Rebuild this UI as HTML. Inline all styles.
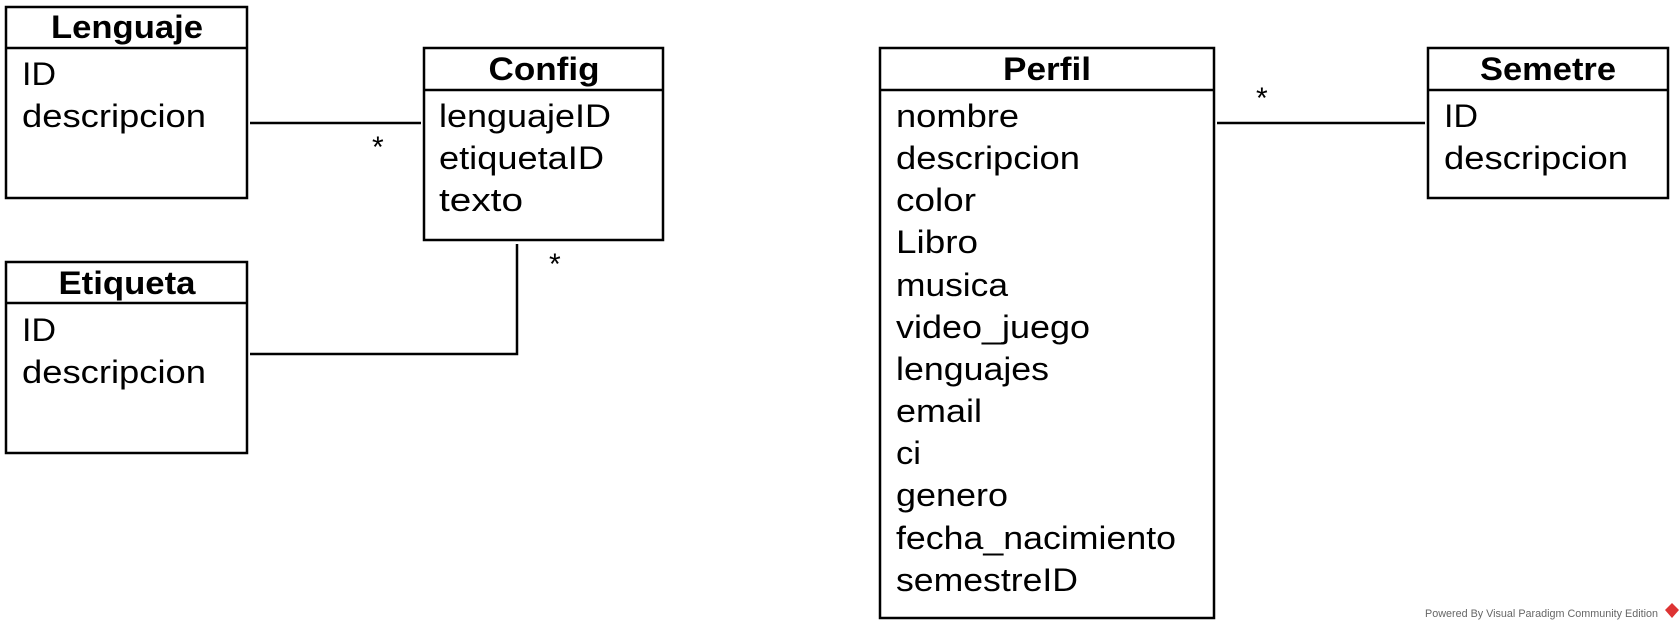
<!DOCTYPE html>
<html><head><meta charset="utf-8"><style>html,body{margin:0;padding:0;background:#fff}svg{display:block}</style></head>
<body>
<svg width="1680" height="630" xmlns="http://www.w3.org/2000/svg" font-family="'Liberation Sans', sans-serif" font-size="32" fill="#000">
<g fill="none" stroke="#000" stroke-width="2.5">
<rect x="6" y="7" width="241" height="191"/><line x1="6" y1="48" x2="247" y2="48"/>
<rect x="424" y="48" width="239" height="192"/><line x1="424" y1="90" x2="663" y2="90"/>
<rect x="6" y="262" width="241" height="191"/><line x1="6" y1="303" x2="247" y2="303"/>
<rect x="880" y="48" width="334" height="570"/><line x1="880" y1="90" x2="1214" y2="90"/>
<rect x="1428" y="48" width="240" height="150"/><line x1="1428" y1="90" x2="1668" y2="90"/>
<line x1="250" y1="123" x2="421" y2="123"/>
<polyline points="250,354 517,354 517,244"/>
<line x1="1217" y1="123" x2="1425" y2="123"/>
</g>
<g font-weight="bold" text-anchor="middle">
<text x="127" y="38" textLength="152" lengthAdjust="spacingAndGlyphs">Lenguaje</text>
<text x="544" y="80" textLength="111" lengthAdjust="spacingAndGlyphs">Config</text>
<text x="127" y="294" textLength="137" lengthAdjust="spacingAndGlyphs">Etiqueta</text>
<text x="1047" y="80" textLength="88" lengthAdjust="spacingAndGlyphs">Perfil</text>
<text x="1548" y="80" textLength="136" lengthAdjust="spacingAndGlyphs">Semetre</text>
</g>
<g>
<text x="22" y="85" textLength="34" lengthAdjust="spacingAndGlyphs">ID</text>
<text x="22" y="127" textLength="184" lengthAdjust="spacingAndGlyphs">descripcion</text>
<text x="22" y="341" textLength="34" lengthAdjust="spacingAndGlyphs">ID</text>
<text x="22" y="383" textLength="184" lengthAdjust="spacingAndGlyphs">descripcion</text>
<text x="439" y="127" textLength="172" lengthAdjust="spacingAndGlyphs">lenguajeID</text>
<text x="439" y="169" textLength="165" lengthAdjust="spacingAndGlyphs">etiquetaID</text>
<text x="439" y="211" textLength="84" lengthAdjust="spacingAndGlyphs">texto</text>
<text x="1444" y="127" textLength="34" lengthAdjust="spacingAndGlyphs">ID</text>
<text x="1444" y="169" textLength="184" lengthAdjust="spacingAndGlyphs">descripcion</text>
</g>
<g>
<text x="896" y="127" textLength="123" lengthAdjust="spacingAndGlyphs">nombre</text>
<text x="896" y="169" textLength="184" lengthAdjust="spacingAndGlyphs">descripcion</text>
<text x="896" y="211" textLength="80" lengthAdjust="spacingAndGlyphs">color</text>
<text x="896" y="253" textLength="82" lengthAdjust="spacingAndGlyphs">Libro</text>
<text x="896" y="296" textLength="112" lengthAdjust="spacingAndGlyphs">musica</text>
<text x="896" y="338" textLength="194" lengthAdjust="spacingAndGlyphs">video_juego</text>
<text x="896" y="380" textLength="153" lengthAdjust="spacingAndGlyphs">lenguajes</text>
<text x="896" y="422" textLength="86" lengthAdjust="spacingAndGlyphs">email</text>
<text x="896" y="464" textLength="25" lengthAdjust="spacingAndGlyphs">ci</text>
<text x="896" y="506" textLength="112" lengthAdjust="spacingAndGlyphs">genero</text>
<text x="896" y="549" textLength="280" lengthAdjust="spacingAndGlyphs">fecha_nacimiento</text>
<text x="896" y="591" textLength="182" lengthAdjust="spacingAndGlyphs">semestreID</text>
</g>
<g font-size="30">
<text x="372" y="157">*</text>
<text x="549" y="274">*</text>
<text x="1256" y="108">*</text>
</g>
<text x="1425" y="617" font-size="11" fill="#666" textLength="233" lengthAdjust="spacingAndGlyphs">Powered By Visual Paradigm Community Edition</text>
<polygon points="1672,603 1679,610 1672,618 1665,610" fill="#d33"/>
</svg>
</body></html>
